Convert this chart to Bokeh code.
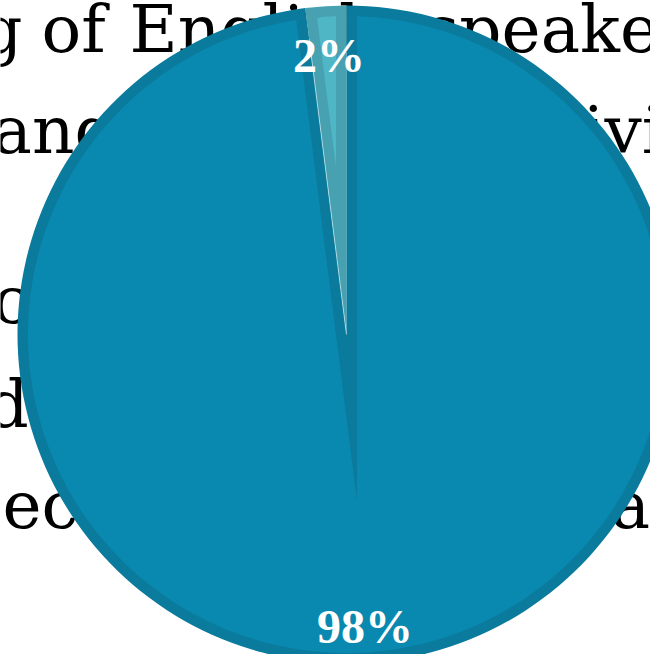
import numpy as np
from bokeh.plotting import figure
from bokeh.models import Range1d
from bokeh.core.properties import value
from bokeh.embed import file_html
from bokeh.resources import INLINE

# ---------------- data ----------------
categories = ["Other languages", "English"]
shares = [2, 98]
share_labels = ["2%", "98%"]

# background (cropped) title text fragments
title_texts = ["Ranking", "of", "English", "speakers", "languages", "individuals",
               "countries", "divided", "economies", "year"]

# ---------------- layout / style ----------------
W, H = 650, 654          # figure size
SCREEN_H = 670

def sy(y_screen):
    return SCREEN_H - y_screen

p = figure(width=W, height=H, output_backend="svg", toolbar_location=None,
           x_range=Range1d(0, W), y_range=Range1d(SCREEN_H - H, SCREEN_H),
           min_border=0)
p.axis.visible = False
p.grid.visible = False
p.outline_line_color = None
p.background_fill_color = "white"
p.border_fill_color = "white"

# background title fragments (x = left edge, or right edge for "right"; baseline in screen px)
FS = 66
title_x = [22, 41, 129, 425, -29, 477, -8, -14, 2, 534]
title_base = [52, 52, 52, 52, 153, 153, 323, 427, 528, 528]
title_align = ["right", "left", "left", "left", "left", "left", "left", "left", "left", "left"]
for t, x, b, a in zip(title_texts, title_x, title_base, title_align):
    p.text(x=[x], y=[sy(b - 0.346 * FS)], text=[t], text_align=a, text_baseline="middle",
           text_font=value("DejaVu Serif"), text_font_size=f"{FS}px", text_color="black")

# pie geometry
cx, cy = 346, sy(334)
R = 329
w = 10.5
outer_colors = ["#47A1B1", "#0A7B9C"]
inner_colors = ["#4FB6C6", "#0A89B0"]

fr = np.array(shares, dtype=float) / np.sum(shares)
ends = np.pi / 2 + 2 * np.pi * np.cumsum(fr)
starts = np.concatenate([[np.pi / 2], ends[:-1]])

p.wedge(x=cx, y=cy, radius=R, start_angle=list(starts), end_angle=list(ends),
        fill_color=outer_colors, line_color=None)

def inset_polygon(a1, a2):
    th = a2 - a1
    b = a1 + th / 2
    d = w / np.sin(th / 2)
    D = np.array([d * np.cos(b), d * np.sin(b)])
    r_in = R - w
    qs = []
    for a in (a1, a2):
        u = np.array([np.cos(a), np.sin(a)])
        du = D @ u
        t = -du + np.sqrt(du ** 2 - D @ D + r_in ** 2)
        qs.append(D + t * u)
    f1 = np.arctan2(qs[0][1], qs[0][0])
    f2 = np.arctan2(qs[1][1], qs[1][0])
    while f2 <= f1:
        f2 += 2 * np.pi
    arc = np.linspace(f1, f2, 200)
    xs = [D[0]] + list(r_in * np.cos(arc)) + [D[0]]
    ys = [D[1]] + list(r_in * np.sin(arc)) + [D[1]]
    return [cx + v for v in xs], [cy + v for v in ys]

xs_all, ys_all = [], []
for a1, a2 in zip(starts, ends):
    xs, ys = inset_polygon(a1, a2)
    xs_all.append(xs)
    ys_all.append(ys)
p.patches(xs_all, ys_all, fill_color=inner_colors, line_color=None)

# thin light seam between the slices
seam_a = ends[0]
p.segment(x0=cx, y0=cy, x1=cx + (R - 3 * w) * np.cos(seam_a), y1=cy + (R - 3 * w) * np.sin(seam_a),
          line_color="#CFEFF4", line_width=1, line_alpha=0.7)

# percentage labels
label_r = [0.85 * R, 0.89 * R]
mid = (starts + ends) / 2
lx = [cx + r * np.cos(m) for r, m in zip(label_r, mid)]
ly = [cy + r * np.sin(m) for r, m in zip(label_r, mid)]
p.text(x=lx, y=ly, text=share_labels, text_align="center", text_baseline="middle",
       text_font=value("Liberation Serif"), text_font_style="bold",
       text_font_size="48px", text_color="white")

open("out.html", "w").write(file_html(p, INLINE))
